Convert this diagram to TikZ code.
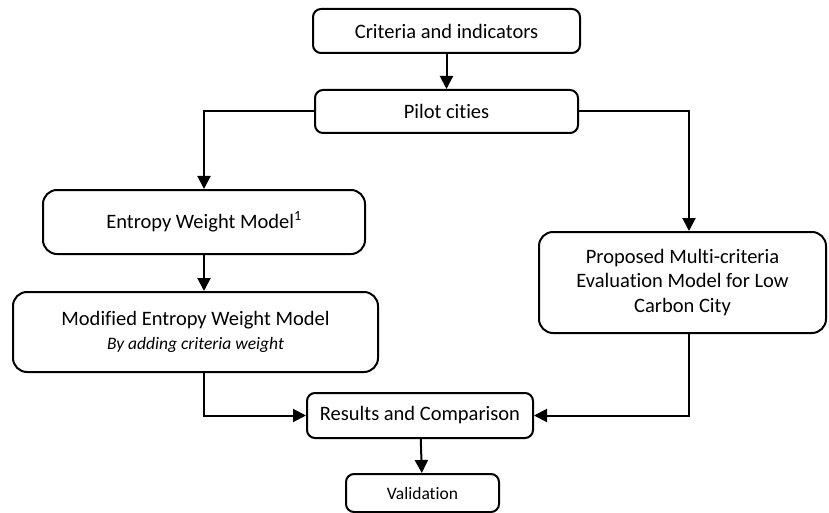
\documentclass[tikz,border=0pt]{standalone}
\usepackage{fontspec}
\setmainfont[Ligatures=NoCommon]{Carlito}
\usetikzlibrary{positioning,arrows.meta,calc}

\begin{document}
\begin{tikzpicture}[
  x=1pt, y=-1pt,
  bloco/.style={rectangle, rounded corners=8pt, draw=black, line width=2pt,
                align=center, inner sep=2pt, font=\fontsize{20.5}{24.5}\selectfont},
  blocogrande/.style={bloco, rounded corners=14pt},
  seta/.style={-{Triangle[length=13pt, width=13pt]}, line width=2pt},
]
\useasboundingbox (0,0) rectangle (829,513);

% ---------------- Caixas ----------------
\node[bloco, minimum width=267pt, minimum height=44pt] (crit) at (446.5,31) {Criteria and indicators};
\node[bloco, minimum width=263pt, minimum height=43pt] (piloto) at (446.5,111.5) {Pilot cities};
\node[blocogrande, minimum width=322pt, minimum height=64pt] (entropia) at (204,222)
  {Entropy Weight Model\textsuperscript{\fontsize{14}{14}\selectfont 1}};
\node[blocogrande, minimum width=365pt, minimum height=80pt] (modificado) at (195.5,332)
  {Modified Entropy Weight Model\\{\fontsize{17.5}{22}\selectfont\itshape By adding criteria weight}};
\node[blocogrande, minimum width=287pt, minimum height=101pt] (proposto) at (682.5,282.5)
  {Proposed Multi-criteria\\Evaluation Model for Low\\Carbon City};
\node[bloco, minimum width=226pt, minimum height=45pt] (resultados) at (420,415.5) {Results and Comparison};
\node[bloco, minimum width=153pt, minimum height=38pt, font=\fontsize{17.5}{20}\selectfont] (validacao) at (422.5,493) {Validation};

\coordinate (kD) at (689,0);

% ---------------- Setas ----------------
\draw[seta] (crit) -- (piloto);
\draw[seta] (piloto.west) -| (entropia.north);
\draw[seta] (piloto.east) -| (proposto.north -| kD);
\draw[seta] (entropia) -- (entropia |- modificado.north);
\draw[seta] (modificado.south -| entropia) |- (resultados.west);
\draw[seta] (proposto.south -| kD) |- (resultados.east);
\draw[seta] (resultados) -- (validacao);

\end{tikzpicture}
\end{document}
